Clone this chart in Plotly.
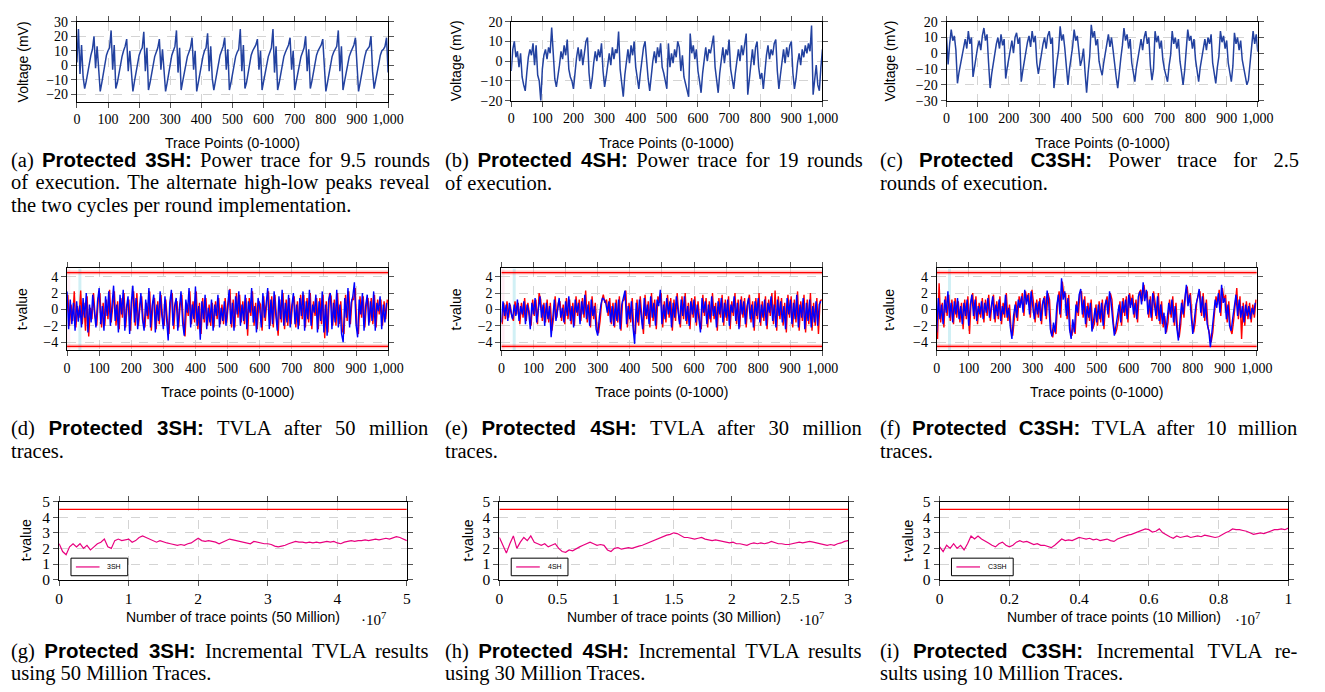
import plotly.graph_objects as go

W, H = 1325, 692

# ---------------- data ----------------
# (a) Protected 3SH power trace, sampled every 5 trace points (mV)
power_3sh = [2, 25, -6, 14, -8, -16, -11, -6, 1, 7, 11, 20, -2, 13, -7, -18, -12, -6, 2, 7,
             10, 12, 24, -3, 14, -16, -12, -5, 1, 6, 10, 13, 18, -4, 10, -8, -18, -11, -5, 2,
             7, 10, 12, 23, -4, 12, -17, -12, -6, 1, 6, 9, 12, 18, -3, 11, -8, -18, -12, -5,
             2, 7, 10, 13, 24, -5, 12, -17, -11, -5, 1, 6, 9, 12, 19, -3, 10, -18, -12, -6,
             1, 6, 10, 12, 22, -4, 13, -9, -17, -11, -5, 2, 7, 10, 13, 19, -3, 11, -17, -12,
             -6, 1, 6, 9, 11, 25, -4, 14, -16, -12, -5, 2, 7, 10, 12, 14, 18, -3, 10, -17,
             -11, -5, 1, 6, 9, 12, 25, -5, 13, -17, -12, -6, 1, 6, 9, 12, 14, 19, -3, 10,
             -17, -11, -5, 1, 6, 9, 12, 20, -4, 11, -16, -11, -5, 2, 7, 10, 12, 14, 18, -3,
             -18, -12, -6, 1, 6, 9, 11, 13, 24, -4, 13, -17, -11, -5, 1, 6, 9, 12, 14, 19,
             -3, -18, -12, -6, 1, 6, 10, 12, 13, 20, -4, -16, -11, -5, 1, 7, 10, 11, 13, 19, -5]

# (b) Protected 4SH power trace (mV)
power_4sh = [-5, 6, 10, 2, 5, -3, 4, -8, -12, -15, -6, 2, 6, 3, 9, -2, 8, -7, -10, -20,
             -4, 3, 6, 1, 7, 4, 17, 2, -9, -13, -8, -2, 5, 1, 8, 3, 11, -4, -8, -10,
             -14, -5, 2, 7, 0, 6, -2, 4, 10, 12, -6, -14, -9, -1, 5, 0, 6, 2, 9, -5,
             -13, -8, -1, 4, -2, 7, 1, 6, 4, 15, -4, -10, -18, -7, 1, 6, -1, 8, 3, 10,
             -3, -10, -14, -6, 2, 7, 10, -2, -9, -15, -7, 0, 5, -1, 7, 2, 9, -3, -6, -10,
             -14, 9, -3, 4, -1, 6, 2, 10, 7, -5, 3, -8, -11, -14, -18, 14, 4, 8, 1, 6,
             -5, -10, -16, -6, 2, 7, 0, 6, 4, 9, 13, -3, -9, -16, -6, 2, 7, -1, 6, 3,
             11, -4, -9, -14, -6, 1, 6, 0, 8, 3, 10, 14, -17, -8, 0, 6, -2, 7, 10, -3,
             -9, -6, -14, -4, 3, 8, 1, 6, 3, 9, 11, -5, -14, -7, 1, 6, -1, 7, 2, 8,
             10, -6, -14, -9, -1, 4, -2, 6, 2, 8, 4, 9, 5, 18, -17, -8, -2, -12, -15, -3, 6]

# (c) Protected C3SH power trace (mV)
power_c3sh = [10, -7, 6, 15, 8, 11, 2, -19, -12, -7, -1, 5, 9, 3, 14, 6, 10, -15, -8, -3,
              4, 8, 2, 11, 16, 8, 12, -6, -22, -13, -6, 1, 6, 10, 3, 12, 5, 9, -16, -9,
              -4, 3, 8, 0, 10, 13, 6, 10, -18, -11, -5, 2, 7, 11, 4, 14, 7, 11, -6, -13,
              -7, 1, 6, 10, 3, 11, 14, 6, 10, -22, -12, -5, 2, 17, 8, 12, 3, -8, -20, -10,
              -3, 4, 15, 8, 11, 2, -8, -4, 3, -12, -25, -12, -2, 18, 10, 14, 5, 9, -5, -10,
              -14, -6, 1, 7, 12, 4, 10, 2, -8, -15, -22, -11, -3, 5, 16, 8, 12, 3, 9, -6,
              -12, -18, -9, -2, 5, 9, 2, 10, 14, 6, 10, -8, -17, -10, 14, 7, 11, 3, 8, -4,
              -10, -14, -18, -8, -1, 14, 6, 10, 3, 9, -5, -12, -20, -11, 2, 15, 8, 11, 3, 9,
              -4, -10, -18, -9, -2, 5, 9, 2, 10, 6, 12, -6, -13, -19, -9, -2, 14, 7, 11, 3,
              8, -6, -12, -18, -8, 13, 6, 10, 2, 8, -4, -10, -14, -20, -17, -6, 2, 14, 6, 12, 1]

# (d) Protected 3SH TVLA t-values (two tests)
tvla_3sh_red = [1.8, -2.0, 0.6, -1.4, 2.2, -2.2, 0.4, -1.0, 2.3, -1.8,
                0.8, -2.6, 1.6, -3.3, 0.2, -1.2, 2.0, -0.8, -2.0, 1.4,
                2.0, -2.2, 0.8, -2.0, 1.2, -1.2, 2.4, -1.6, 0.4, 2.2,
                -2.0, 1.0, -2.4, 1.4, -1.0, 2.0, -2.2, 0.6, 1.2, -2.6,
                1.2, 2.2, -2.0, 2.0, -2.0, 0.6, 1.6, -1.6, -2.2, 0.8,
                -1.2, 2.2, -2.6, 0.8, 1.4, -2.4, 1.0, -1.8, 1.8, -1.0,
                -2.0, 1.2, -1.4, -3.0, 1.2, 2.0, -2.4, 0.8, 1.0, -2.2,
                0.6, 1.8, -2.0, -3.3, 0.8, -0.8, 2.2, -1.8, 1.0, -1.6,
                2.2, -2.4, 0.8, -3.0, 1.4, -1.6, 1.4, -2.0, 0.6, -2.0,
                0.8, -2.2, 1.0, -1.2, 1.4, -1.8, 0.6, -1.8, 1.4, -1.6,
                0.8, 2.5, -2.2, 1.2, -2.2, 2.0, -1.0, 1.8, -1.6, 1.0,
                -1.8, 1.4, -3.2, 1.4, -0.8, 2.2, -2.0, 0.8, -2.4, 1.0,
                0.6, -2.6, 1.6, -1.4, 1.0, 2.2, -2.0, 1.6, -2.2, 1.8,
                -1.0, -3.2, 1.2, -1.6, 2.0, -2.4, 1.2, -2.0, 1.4, -1.8,
                0.8, 1.6, -2.2, 1.0, -2.0, 1.8, -1.2, 1.8, -2.2, 1.4,
                -1.6, 2.0, -2.4, 1.0, -0.8, 1.4, -2.4, 1.4, -1.8, 1.8,
                -3.5, 1.0, -2.8, 2.0, 1.6, -2.0, 1.2, -2.0, 2.0, -1.8,
                1.0, -2.6, -3.0, 1.8, -1.4, 2.2, -1.8, 1.2, 1.2, 2.6,
                -2.2, -3.0, 1.6, -1.0, 1.6, -2.2, 0.8, 1.4, -1.6, 1.4,
                -1.8, 1.8, -2.2, 1.2, -0.6, 1.2, -2.0, 1.0, -1.2, 1.2]
tvla_3sh_blue = [2.2, -2.4, 1.2, -1.8, 0.8, -2.6, 1.0, -1.5, 0.5, -2.2,
                 1.4, -1.0, 2.0, -2.8, 0.6, -1.6, 1.8, -0.4, -2.2, 1.0,
                 2.6, -1.8, 0.4, -2.6, 1.6, -0.8, 2.2, -2.0, 0.8, 2.9,
                 -1.4, 0.6, -2.8, 1.8, -0.6, 2.4, -2.6, 0.2, 1.6, -3.0,
                 0.8, 2.9, -1.6, 1.4, -2.4, 0.2, 2.0, -1.2, -2.6, 1.2,
                 -0.8, 2.6, -2.2, 0.4, 1.8, -2.8, 0.6, -1.4, 2.2, -0.6,
                 -2.4, 1.6, -1.0, -3.8, 0.8, 2.4, -2.0, 0.4, 1.4, -2.6,
                 0.2, 2.2, -1.6, -3.2, 1.2, -0.4, 2.6, -2.2, 0.6, -1.2,
                 2.8, -2.0, 0.4, -3.7, 1.0, -1.2, 1.8, -2.4, 0.2, -1.6,
                 1.2, -2.6, 0.6, -0.8, 1.8, -2.2, 0.2, -1.4, 1.0, -2.0,
                 0.4, 2.4, -1.8, 0.8, -2.6, 1.6, -0.6, 2.2, -2.0, 0.6,
                 -1.4, 1.8, -2.4, 1.0, -0.4, 2.6, -1.6, 0.4, -2.8, 1.4,
                 0.2, -2.2, 2.0, -1.0, 0.6, 2.6, -2.4, 1.2, -1.8, 2.2,
                 -0.6, -2.6, 1.6, -1.2, 2.4, -2.0, 0.8, -1.6, 1.8, -2.2,
                 0.4, 2.0, -1.8, 0.6, -2.4, 1.4, -0.8, 2.2, -2.6, 1.0,
                 -1.2, 2.4, -2.0, 0.6, -0.4, 1.8, -2.8, 1.0, -1.4, 2.2,
                 -2.8, 0.6, -3.2, 1.2, 2.0, -2.4, 0.8, -1.6, 2.4, -2.2,
                 0.6, -3.0, -4.0, 1.4, -1.0, 2.6, -2.2, 0.8, 1.6, 3.3,
                 -1.8, -3.4, 1.2, -0.6, 2.0, -2.6, 0.4, 1.8, -2.0, 1.0,
                 -1.4, 2.2, -2.6, 0.8, -0.2, 1.6, -2.4, 0.6, -1.6, 0.8]

# (e) Protected 4SH TVLA t-values
tvla_4sh_red = [-1.8, 0.8, -1.2, 1.0, -1.0, 0.6, -0.8, -1.4, 1.0, -0.6,
                0.8, -1.8, 0.8, -1.0, 1.4, -1.4, 0.8, -0.6, -2.0, 1.2,
                -0.8, 1.2, -1.8, 2.0, 1.2, -1.4, 0.8, -1.6, 1.2, -1.6,
                0.8, -2.6, -1.0, 1.6, -1.0, 0.8, 1.0, -1.4, 0.6, -1.8,
                1.4, -1.2, 1.2, -1.8, 0.8, -2.0, 1.6, -0.8, 1.2, -1.4,
                1.4, -1.0, 2.3, -1.6, 1.0, -2.2, 1.6, -1.2, 0.8, -2.2,
                -2.9, -1.4, 1.0, 1.8, 0.8, 1.2, -0.8, 1.4, -1.8, 0.8,
                -2.2, 1.2, -1.6, 1.6, -2.6, 1.0, 1.2, 2.3, -2.2, 0.8,
                -1.6, 1.4, -2.6, -3.0, 1.2, -2.0, 1.6, -1.0, -3.0, 1.8,
                -1.2, 1.0, -2.2, 2.0, -1.4, 1.2, -2.4, 1.6, 0.8, 2.0,
                -2.2, 1.0, -1.6, 1.8, -1.0, 1.4, -2.6, 1.2, -1.4, 2.0,
                -0.8, -2.2, 1.6, -1.2, 2.0, -1.8, 0.8, -2.4, 1.4, -1.0,
                1.6, -2.0, 1.0, -1.4, -2.4, 1.8, -0.8, 1.4, -2.2, 1.0,
                -1.6, 2.0, -1.2, 0.8, -2.6, 1.4, -1.0, 1.8, -2.0, 1.2,
                -1.4, 1.6, -2.4, 1.0, -0.8, 2.0, -1.8, 1.2, -2.2, 1.6,
                -1.0, 1.4, -2.2, 0.8, 1.8, -1.6, 1.0, -2.6, 1.4, -1.2,
                2.0, -2.0, 1.0, -1.4, 1.6, -2.4, 1.2, -0.8, 2.0, -1.8,
                2.3, -2.6, 1.6, -1.2, 1.4, -2.0, 0.8, -2.8, 1.8, -1.0,
                1.6, -2.2, 1.2, -1.6, 2.2, -2.6, 1.0, -1.4, 1.8, -2.8,
                1.2, -1.8, 2.0, -2.6, 0.8, -2.0, 1.4, -3.0, 1.0, 1.2]
tvla_4sh_blue = [-1.6, 1.0, -0.8, 0.6, -1.4, 0.8, -0.4, -1.2, 0.6, -0.8,
                 1.2, -1.4, 0.4, -0.6, 1.0, -1.8, 0.6, -0.2, -2.4, 0.8,
                 -0.6, 1.4, -1.6, 0.2, 1.6, -1.0, 0.6, -2.0, 0.8, -1.2,
                 0.4, -3.4, -0.6, 1.2, -1.4, 0.4, 1.4, -1.0, 0.2, -1.6,
                 1.0, -0.8, 1.6, -1.4, 0.4, -2.2, 1.2, -0.4, 0.8, -1.8,
                 1.0, -0.6, 1.8, -1.2, 0.6, -2.0, 1.2, -0.8, 0.4, -2.4,
                 -3.2, -1.0, 0.6, 1.4, 1.2, 0.8, -0.4, 1.0, -1.6, 0.4,
                 -2.0, 0.8, -1.4, 1.2, -2.4, 0.6, 1.6, 2.3, -1.8, 0.4,
                 -1.2, 1.0, -2.2, -4.2, 0.8, -1.6, 1.2, -0.6, -2.4, 1.4,
                 -0.8, 0.6, -1.8, 1.6, -1.0, 0.8, -2.0, 1.2, 0.4, 2.4,
                 -1.8, 0.6, -1.2, 1.4, -0.6, 1.0, -2.2, 0.8, -1.0, 1.6,
                 -0.4, -1.8, 1.2, -0.8, 1.6, -1.4, 0.4, -2.0, 1.0, -0.6,
                 1.2, -1.6, 0.6, -1.0, -2.8, 1.4, -0.4, 1.0, -1.8, 0.6,
                 -1.2, 1.6, -0.8, 0.4, -2.2, 1.0, -0.6, 1.4, -1.6, 0.8,
                 -1.0, 1.2, -2.0, 0.6, -0.4, 1.6, -1.4, 0.8, -2.4, 1.2,
                 -0.6, 1.0, -1.8, 0.4, 1.4, -1.2, 0.6, -2.2, 1.0, -0.8,
                 1.4, -1.6, 0.6, -1.0, 1.2, -2.0, 0.8, -0.4, 1.6, -1.4,
                 0.6, -2.2, 1.2, -0.8, 1.0, -1.6, 0.4, -2.4, 1.4, -0.6,
                 1.2, -1.8, 0.8, -1.2, 1.8, -2.2, 0.6, -1.0, 1.4, -2.4,
                 0.8, -1.4, 1.2, -2.2, 0.4, -1.6, 1.0, -2.0, 0.6, 1.0]

# (f) Protected C3SH TVLA t-values
tvla_c3sh_red = [-3.6, 3.2, -1.6, 0.8, -2.2, 1.6, -0.8, 1.8, -1.4, 1.2,
                 -1.8, 1.4, -1.0, 1.0, -1.6, 0.8, -2.4, 1.2, -1.2, 1.6,
                 -3.0, 1.0, 2.0, -1.2, 1.6, -1.8, 0.8, -1.0, 1.4, -1.6,
                 1.2, -0.8, 1.8, -1.4, 0.6, 1.8, -1.6, 1.0, -1.2, 1.6,
                 -1.8, 0.8, -1.0, 2.0, -1.4, 0.6, -2.6, -3.2, -1.2, 1.0,
                 -1.4, 1.6, 0.6, 2.0, -0.8, 2.2, 1.0, 2.0, -1.0, 2.4,
                 0.8, -1.6, 1.2, -1.0, 1.4, -1.8, 1.0, 1.6, -1.2, 2.0,
                 1.2, -2.8, -3.4, -2.0, -3.0, 0.8, 2.2, -1.0, 3.4, 1.6,
                 2.0, -1.2, 1.8, -2.8, -3.2, -1.6, -3.0, 1.0, -0.8, 2.0,
                 2.2, -1.0, 1.6, -2.2, 0.8, -1.4, 1.2, -2.4, -1.8, 0.6,
                 -2.0, 1.0, -1.6, 1.2, -2.4, 0.8, 1.6, -1.0, 2.0, 1.2,
                 -1.8, -3.0, -2.4, -1.2, 1.0, -2.0, 1.4, -0.8, 1.6, -1.6,
                 2.0, 0.6, 1.8, -1.0, 1.2, -1.6, 2.0, 2.4, 1.0, 3.0,
                 1.4, 2.2, -1.0, 1.6, -1.4, 2.2, 0.8, -1.2, 2.0, -1.8,
                 1.0, -2.2, -0.8, -2.8, -1.6, 1.2, -1.0, 1.6, -2.0, 0.8,
                 -2.6, -3.4, -1.8, 1.2, -1.0, 2.0, 2.8, 0.8, 2.0, -1.2,
                 -2.8, -1.6, 1.0, 1.8, 2.2, -0.8, 2.0, -1.4, 1.2, -2.2,
                 -3.0, -4.0, -2.8, -1.0, 1.6, 0.6, 2.4, -0.8, 2.6, 1.2,
                 1.8, -1.6, 1.0, -2.4, -3.0, -1.4, 0.8, 2.6, -1.2, 1.6,
                 -3.6, 0.8, -2.0, 1.0, -1.2, 0.8, -1.6, 0.6, -1.0, 1.2]
tvla_c3sh_blue = [-2.8, 1.4, -1.2, 0.6, -1.8, 1.2, -0.4, 2.2, -1.0, 0.8,
                  -1.6, 1.0, -0.6, 1.4, -1.2, 0.4, -1.8, 0.8, -0.8, 1.2,
                  -2.0, 0.6, 1.8, -0.8, 1.2, -1.4, 0.4, -0.6, 1.0, -1.2,
                  0.8, -0.4, 1.4, -1.0, 0.2, 1.6, -1.2, 0.6, -0.8, 1.2,
                  -1.4, 0.4, -0.6, 1.8, -1.0, 0.2, -2.2, -3.6, -0.8, 0.6,
                  -1.0, 1.2, 0.2, 1.6, -0.4, 2.4, 0.6, 1.8, -0.6, 2.2,
                  0.4, -1.2, 0.8, -0.6, 1.0, -1.4, 0.6, 1.4, -0.8, 2.3,
                  0.8, -2.4, -3.3, -1.6, -2.8, 0.4, 1.8, -0.6, 3.8, 1.2,
                  2.2, -0.8, 1.4, -2.4, -3.6, -1.2, -2.8, 0.6, -0.4, 1.8,
                  2.5, -0.6, 1.2, -1.8, 0.4, -1.0, 0.8, -2.7, -1.4, 0.2,
                  -1.6, 0.6, -1.2, 0.8, -2.0, 0.4, 1.2, -0.6, 2.2, 0.8,
                  -1.4, -3.2, -2.0, -0.8, 0.6, -1.6, 1.0, -0.4, 1.2, -1.2,
                  1.8, 0.2, 1.4, -0.6, 0.8, -1.2, 1.6, 2.2, 0.6, 3.3,
                  1.0, 2.4, -0.6, 1.2, -1.0, 2.0, 0.4, -0.8, 1.6, -1.4,
                  0.6, -1.8, -0.4, -3.0, -1.2, 0.8, -0.6, 1.2, -1.6, 0.4,
                  -2.2, -3.8, -1.4, 0.8, -0.6, 1.6, 3.0, 0.4, 1.8, -0.8,
                  -3.0, -1.2, 0.6, 1.4, 2.5, -0.4, 1.6, -1.0, 0.8, -1.8,
                  -2.6, -4.6, -2.4, -0.6, 1.2, 0.2, 2.0, -0.4, 3.0, 0.8,
                  1.4, -1.2, 0.6, -2.0, -2.6, -1.0, 0.4, 1.8, -0.8, 1.2,
                  -1.0, 0.4, -1.6, 0.6, -0.8, 0.4, -1.2, 0.2, -0.6, 0.8]

# (g)-(i) incremental TVLA max |t| (x in units of 10^7 traces)
inc_3sh = [2.3, 1.8, 1.6, 2.1, 2.3, 2.1, 2.3, 2.0, 2.2, 1.9, 2.1, 2.3, 2.4, 2.6, 2.1, 2.0, 2.5, 2.6, 2.5, 2.55,
           2.6, 2.4, 2.5, 2.7, 2.8, 2.7, 2.6, 2.5, 2.4, 2.5, 2.4, 2.35, 2.3, 2.25, 2.2, 2.25, 2.2, 2.3, 2.35, 2.5,
           2.65, 2.5, 2.45, 2.5, 2.45, 2.4, 2.3, 2.4, 2.5, 2.6, 2.55, 2.5, 2.45, 2.4, 2.35, 2.3, 2.45, 2.4, 2.35, 2.3,
           2.3, 2.25, 2.15, 2.1, 2.15, 2.2, 2.3, 2.4, 2.45, 2.4, 2.4, 2.35, 2.4, 2.35, 2.4, 2.35, 2.4, 2.45, 2.4, 2.45,
           2.35, 2.3, 2.4, 2.45, 2.5, 2.45, 2.5, 2.5, 2.55, 2.5, 2.55, 2.6, 2.55, 2.6, 2.65, 2.6, 2.7, 2.75, 2.7, 2.6, 2.5]
inc_4sh = [2.7, 2.2, 1.7, 2.3, 2.8, 2.0, 2.4, 2.7, 2.5, 2.8, 2.4, 2.3, 2.2, 2.3, 2.1, 2.2, 2.3, 2.0, 1.8, 1.75,
           1.9, 1.85, 2.0, 2.1, 2.2, 2.3, 2.4, 2.3, 2.2, 2.25, 2.2, 1.9, 1.8, 2.0, 2.05, 1.95, 2.0, 2.05, 2.0, 2.1,
           2.15, 2.2, 2.3, 2.4, 2.5, 2.6, 2.7, 2.8, 2.85, 2.9, 3.0, 2.95, 2.8, 2.7, 2.7, 2.65, 2.6, 2.65, 2.7, 2.6,
           2.55, 2.5, 2.55, 2.5, 2.45, 2.4, 2.35, 2.4, 2.3, 2.3, 2.25, 2.2, 2.3, 2.35, 2.3, 2.35, 2.3, 2.35, 2.45, 2.35,
           2.3, 2.3, 2.25, 2.25, 2.3, 2.35, 2.4, 2.35, 2.4, 2.45, 2.4, 2.35, 2.3, 2.25, 2.2, 2.25, 2.2, 2.3, 2.35, 2.45, 2.5]
inc_c3sh = [2.1, 1.8, 2.2, 2.0, 2.3, 2.0, 2.2, 1.9, 2.3, 2.8, 2.6, 2.8, 2.6, 2.5, 2.35, 2.2, 2.1, 2.3, 2.4, 2.2,
            2.1, 2.2, 2.4, 2.5, 2.4, 2.45, 2.35, 2.25, 2.3, 2.2, 2.2, 2.1, 2.05, 2.2, 2.4, 2.6, 2.5, 2.55, 2.5, 2.6,
            2.7, 2.65, 2.6, 2.65, 2.55, 2.6, 2.5, 2.55, 2.6, 2.5, 2.45, 2.6, 2.7, 2.8, 2.85, 2.9, 3.0, 3.1, 3.2, 3.25,
            3.2, 3.05, 3.1, 3.25, 3.0, 2.85, 2.75, 2.65, 2.8, 2.7, 2.75, 2.8, 2.7, 2.75, 2.8, 2.75, 2.85, 2.8, 2.75, 2.7,
            2.75, 2.9, 3.0, 3.1, 3.25, 3.2, 3.2, 3.15, 3.1, 3.0, 2.9, 2.95, 3.0, 2.95, 3.05, 3.15, 3.2, 3.2, 3.25, 3.2, 3.3]

inc_total = [5, 3, 1]          # total traces, in units of 10^7
inc_names = ["3SH", "4SH", "C3SH"]
inc_dticks = [1, 0.5, 0.2]
threshold = 4.5

captions = [
    ["(a) |Protected 3SH:| Power trace for 9.5 rounds",
     "of execution. The alternate high-low peaks reveal",
     "the two cycles per round implementation."],
    ["(b) |Protected 4SH:| Power trace for 19 rounds",
     "of execution."],
    ["(c) |Protected C3SH:| Power trace for 2.5",
     "rounds of execution."],
    ["(d) |Protected 3SH:| TVLA after 50 million",
     "traces."],
    ["(e) |Protected 4SH:| TVLA after 30 million",
     "traces."],
    ["(f) |Protected C3SH:| TVLA after 10 million",
     "traces."],
    ["(g) |Protected 3SH:| Incremental TVLA results",
     "using 50 Million Traces."],
    ["(h) |Protected 4SH:| Incremental TVLA results",
     "using 30 Million Traces."],
    ["(i) |Protected C3SH:| Incremental TVLA re-",
     "sults using 10 Million Traces."],
]

# ---------------- layout geometry (pixels) ----------------
boxes = [(74, 390, 13, 95), (515, 831, 13, 94), (957, 1273, 13, 94),
         (64, 390, 266, 350), (505, 831, 266, 350), (947, 1272, 266, 350),
         (56, 409, 505, 585), (503, 857, 505, 585), (950, 1304, 505, 585)]
col_left = [5, 446, 887]
col_right = [424, 864, 1306]
cap_y = [155, 155, 155, 430, 430, 430, 658, 658, 658]
cap_dy = 23
CAP_FS = 20.5

SERIF = "Liberation Serif"
SANS = "Liberation Sans"
TRACE_BLUE = "#2342a0"
PINK = "#e8007f"

# Times / Helvetica-Bold advance widths (per 1000 em) for justification
TIMES_W = {' ': 250, '(': 333, ')': 333, '.': 250, ',': 250, '-': 333, ':': 278,
           'a': 444, 'b': 500, 'c': 444, 'd': 500, 'e': 444, 'f': 333, 'g': 500, 'h': 500,
           'i': 278, 'j': 278, 'k': 500, 'l': 278, 'm': 778, 'n': 500, 'o': 500, 'p': 500,
           'q': 500, 'r': 333, 's': 389, 't': 278, 'u': 500, 'v': 500, 'w': 722, 'x': 500,
           'y': 500, 'z': 444, 'P': 556, 'T': 611, 'V': 722, 'L': 611, 'A': 722, 'M': 889,
           'I': 333, 'C': 667, 'S': 556, 'H': 722}
HELVB_W = {'P': 667, 'r': 389, 'o': 611, 't': 333, 'e': 556, 'c': 556, 'd': 611, ' ': 278,
           '3': 556, '4': 556, 'S': 667, 'H': 722, ':': 333, 'C': 722}


def tw(s, table):
    return sum(table.get(ch, 500) for ch in s)


fig = go.Figure()


def px_x(v):
    return v / W


def px_y(v):
    return 1 - v / H


def axis_names(k):
    s = "" if k == 0 else str(k + 1)
    return "x" + s, "y" + s, "xaxis" + s, "yaxis" + s


# row 1: power traces
for k, arr in enumerate([power_3sh, power_4sh, power_c3sh]):
    xa, ya, _, _ = axis_names(k)
    fig.add_trace(go.Scatter(x=[5 * i for i in range(len(arr))], y=arr, mode="lines",
                             line=dict(color=TRACE_BLUE, width=1.5), xaxis=xa, yaxis=ya,
                             showlegend=False, hoverinfo="skip"))

# row 2: TVLA
tv = [(tvla_3sh_red, tvla_3sh_blue), (tvla_4sh_red, tvla_4sh_blue), (tvla_c3sh_red, tvla_c3sh_blue)]
for j, (red, blue) in enumerate(tv):
    k = 3 + j
    xa, ya, _, _ = axis_names(k)
    for t in (threshold, -threshold):
        fig.add_trace(go.Scatter(x=[0, 1000], y=[t, t], mode="lines",
                                 line=dict(color="rgba(255,0,0,0.22)", width=4),
                                 xaxis=xa, yaxis=ya, showlegend=False, hoverinfo="skip"))
        fig.add_trace(go.Scatter(x=[0, 1000], y=[t, t], mode="lines",
                                 line=dict(color="#ff0000", width=1.2),
                                 xaxis=xa, yaxis=ya, showlegend=False, hoverinfo="skip"))
    fig.add_trace(go.Scatter(x=[2.5 + 5 * i for i in range(len(red))], y=red, mode="lines",
                             line=dict(color="#ff0000", width=1.4), xaxis=xa, yaxis=ya,
                             showlegend=False, hoverinfo="skip"))
    fig.add_trace(go.Scatter(x=[5 * i for i in range(len(blue))], y=blue, mode="lines",
                             line=dict(color="#0000ff", width=1.4), xaxis=xa, yaxis=ya,
                             showlegend=False, hoverinfo="skip"))

# row 3: incremental TVLA
for j, arr in enumerate([inc_3sh, inc_4sh, inc_c3sh]):
    k = 6 + j
    xa, ya, _, _ = axis_names(k)
    n = len(arr)
    fig.add_trace(go.Scatter(x=[0, inc_total[j]], y=[threshold, threshold], mode="lines",
                             line=dict(color="#ff0000", width=1.3), xaxis=xa, yaxis=ya,
                             showlegend=False, hoverinfo="skip"))
    fig.add_trace(go.Scatter(x=[inc_total[j] * i / (n - 1) for i in range(n)], y=arr, mode="lines",
                             line=dict(color=PINK, width=1.2), xaxis=xa, yaxis=ya,
                             name=inc_names[j], showlegend=False, hoverinfo="skip"))

layout = dict(width=W, height=H, margin=dict(l=0, r=0, t=0, b=0),
              plot_bgcolor="white", paper_bgcolor="white", showlegend=False)

x_ranges = [[0, 1000]] * 6 + [[0, v] for v in inc_total]
y_ranges = [[-25, 30], [-20, 20], [-30, 20], [-5, 5], [-5, 5], [-5, 5], [0, 5], [0, 5], [0, 5]]
y_dticks = [10, 10, 10, 2, 2, 2, 1, 1, 1]
x_dticks = [100] * 6 + inc_dticks

for k, (l, r, t, b) in enumerate(boxes):
    xa, ya, xk, yk = axis_names(k)
    big = k >= 6
    common = dict(showline=True, linecolor="black", linewidth=1, mirror="allticks",
                  ticks="outside", ticklen=5, tickcolor="#555", tickwidth=1,
                  showgrid=True, gridcolor="#d4d4d4", griddash="dash", gridwidth=1,
                  zeroline=False, fixedrange=True,
                  tickfont=dict(family=SERIF, size=15.5 if big else 14, color="black"))
    layout[xk] = dict(common, domain=[px_x(l), px_x(r)], anchor=ya, range=x_ranges[k],
                      dtick=x_dticks[k], tick0=0, tickformat="," if k < 6 else "")
    layout[yk] = dict(common, domain=[px_y(b), px_y(t)], anchor=xa, range=y_ranges[k],
                      dtick=y_dticks[k], tick0=0)

annotations = []
shapes = []
# axis titles
xt = ["Trace Points (0-1000)"] * 3 + ["Trace points (0-1000)"] * 3 + \
     ["Number of trace points (%d Million)" % (v * 10) for v in inc_total]
xt_y = [137] * 3 + [393] * 3 + [623] * 3
yt = ["Voltage (mV)"] * 3 + ["t-value"] * 6
yt_x = [19, 459, 900, 19, 459, 899, 22, 471, 917]
exp_x = [375, 820, 1263]
for k, (l, r, t, b) in enumerate(boxes):
    annotations.append(dict(x=px_x((l + r) / 2), y=px_y(xt_y[k]), xref="paper", yref="paper",
                            text=xt[k], showarrow=False, xanchor="center", yanchor="middle",
                            font=dict(family=SANS, size=14, color="black")))
    annotations.append(dict(x=px_x(yt_x[k]), y=px_y((t + b) / 2), xref="paper", yref="paper",
                            text=yt[k], showarrow=False, textangle=-90, xanchor="center",
                            yanchor="middle", font=dict(family=SANS, size=14, color="black")))
    if k >= 6:
        annotations.append(dict(x=px_x(exp_x[k - 6]), y=px_y(625), xref="paper", yref="paper",
                                text="·10<sup>7</sup>", showarrow=False, xanchor="center",
                                yanchor="middle", font=dict(family=SERIF, size=15, color="black")))
        # legend box drawn in the lower-left corner of the axes
        lx0 = l + 12
        name = inc_names[k - 6]
        txt_w = tw(name, {'3': 556, '4': 556, 'S': 667, 'H': 722, 'C': 722}) * 7 / 1000
        lx1 = lx0 + 36 + txt_w + 8
        shapes.append(dict(type="rect", xref="paper", yref="paper", x0=px_x(lx0), x1=px_x(lx1),
                           y0=px_y(581), y1=px_y(563), line=dict(color="black", width=1),
                           fillcolor="white", layer="above"))
        shapes.append(dict(type="line", xref="paper", yref="paper", x0=px_x(lx0 + 5),
                           x1=px_x(lx0 + 29), y0=px_y(572), y1=px_y(572),
                           line=dict(color=PINK, width=1.2), layer="above"))
        annotations.append(dict(x=px_x(lx0 + 35), y=px_y(572), xref="paper", yref="paper",
                                text=name, showarrow=False, xanchor="left", yanchor="middle",
                                font=dict(family=SANS, size=7, color="black")))

# captions (first lines justified to the column width)
for k, lines in enumerate(captions):
    c = k % 3
    for li, line in enumerate(lines):
        if "|" in line:
            a, bold, rest = line.split("|")
        else:
            a, bold, rest = line, "", ""
        natural = (tw(a, TIMES_W) + tw(rest, TIMES_W) + tw(bold, HELVB_W)) * CAP_FS / 1000
        nsp = line.count(" ")
        ws = 0.0
        if li < len(lines) - 1 and nsp:
            ws = max(0.0, (col_right[c] - col_left[c] - natural) / nsp)
        inner = a
        if bold:
            inner += "<span style=\"font-family:'%s'\"><b>%s</b></span>%s" % (SANS, bold, rest)
        txt = "<span style=\"word-spacing:%.1fpx\">%s</span>" % (ws, inner)
        annotations.append(dict(x=px_x(col_left[c]), y=px_y(cap_y[k] + li * cap_dy), xref="paper",
                                yref="paper", text=txt, showarrow=False, xanchor="left",
                                yanchor="middle", font=dict(family=SERIF, size=CAP_FS, color="black")))
layout["annotations"] = annotations

# faint markers near the start of the TVLA plots
for k in (3, 4, 5):
    xa, ya, _, _ = axis_names(k)
    shapes.append(dict(type="rect", xref=xa, yref=ya, x0=0, x1=10, y0=-5, y1=5,
                       fillcolor="rgba(255,0,120,0.07)", line=dict(width=0), layer="below"))
    shapes.append(dict(type="line", xref=xa, yref=ya, x0=40, x1=40, y0=-5, y1=5,
                       line=dict(color="rgba(0,170,200,0.18)", width=3), layer="below"))
layout["shapes"] = shapes

fig.update_layout(**layout)
fig.write_html("out.html", config={"displayModeBar": False, "staticPlot": True},
               post_script="document.body.style.margin='0px';"
                           "document.documentElement.style.overflow='hidden';")
